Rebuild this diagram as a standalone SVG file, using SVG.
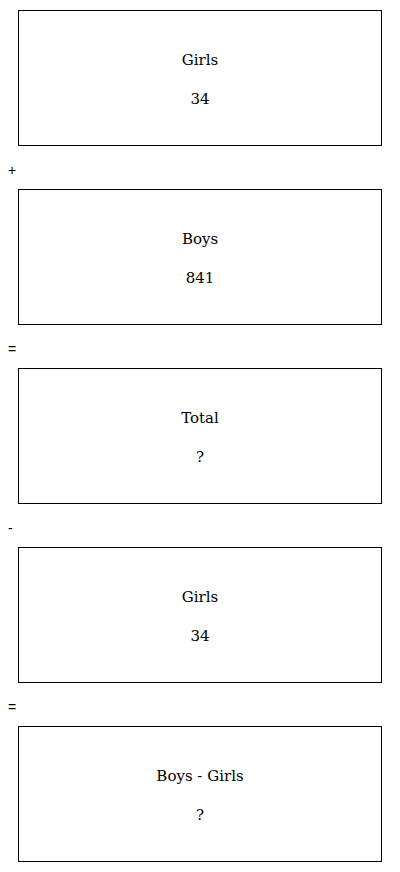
<svg xmlns="http://www.w3.org/2000/svg" width="400" height="872" viewBox="0 0 400 872">
<style>
.box{fill:#fff;stroke:#000;stroke-width:1}
.t{font-family:'DejaVu Serif',serif;font-size:15px;text-anchor:middle;fill:#000}
.op{font-family:'Liberation Sans',sans-serif;font-size:14px;fill:#000}
</style>
<rect width="400" height="872" fill="#fff"/>
<g id="n1"><rect class="box" x="18.5" y="10.5" width="363" height="135"/><text class="t" x="200" y="65">Girls</text><text class="t" x="200" y="104">34</text></g>
<g id="op1"><text class="op" x="8" y="175">+</text></g>
<g id="n2"><rect class="box" x="18.5" y="189.5" width="363" height="135"/><text class="t" x="200" y="244">Boys</text><text class="t" x="200" y="283">841</text></g>
<g id="op2"><text class="op" x="8" y="354">=</text></g>
<g id="n3"><rect class="box" x="18.5" y="368.5" width="363" height="135"/><text class="t" x="200" y="423">Total</text><text class="t" x="200" y="462">?</text></g>
<g id="op3"><text class="op" x="8" y="533">-</text></g>
<g id="n4"><rect class="box" x="18.5" y="547.5" width="363" height="135"/><text class="t" x="200" y="602">Girls</text><text class="t" x="200" y="641">34</text></g>
<g id="op4"><text class="op" x="8" y="712">=</text></g>
<g id="n5"><rect class="box" x="18.5" y="726.5" width="363" height="135"/><text class="t" x="200" y="781">Boys - Girls</text><text class="t" x="200" y="820">?</text></g>
<g id="connectors"></g>
</svg>
